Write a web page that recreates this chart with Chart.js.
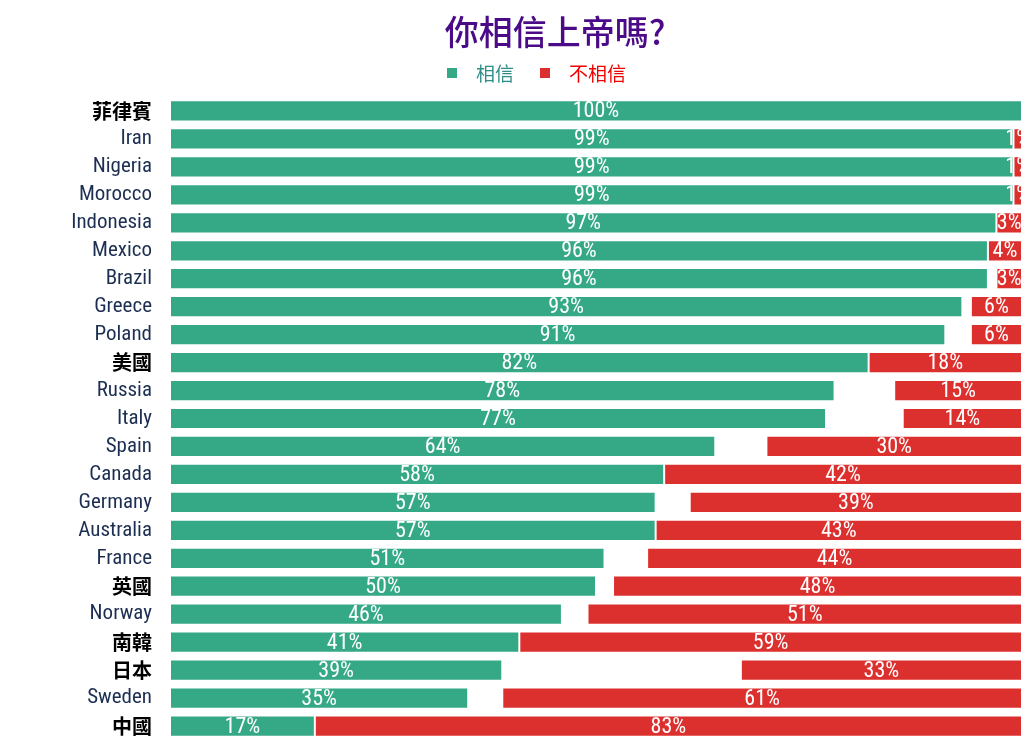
<!DOCTYPE html>
<html>
<head>
<meta charset="utf-8">
<script src="https://cdn.jsdelivr.net/npm/chart.js@4"></script>
<style>
  html, body { margin: 0; padding: 0; background: #fff; overflow: hidden; }
  #wrap { width: 1034px; height: 746px; }
</style>
</head>
<body>
<div id="wrap"><canvas id="chart"></canvas></div>
<script>
// 國家 / 地區
const countries = ['菲律賓', 'Iran', 'Nigeria', 'Morocco', 'Indonesia', 'Mexico', 'Brazil', 'Greece', 'Poland',
    '美國', 'Russia', 'Italy', 'Spain', 'Canada', 'Germany', 'Australia', 'France', '英國', 'Norway',
    '南韓', '日本', 'Sweden', '中國'];
// 相信 (%)
const believe = [100, 99, 99, 99, 97, 96, 96, 93, 91, 82, 78, 77, 64, 58, 57, 57, 51, 50, 46, 41, 39, 35, 17];
// 不相信 (%)
const notBelieve = [0, 1, 1, 1, 3, 4, 3, 6, 6, 18, 15, 14, 30, 42, 39, 43, 44, 48, 51, 59, 33, 61, 83];

const GREEN = '#35a986';
const RED = '#dc302e';
const NARROW = '"Liberation Sans Narrow", "Roboto Condensed", Roboto, sans-serif';
const CJK_FONT = '"Noto Sans CJK TC", sans-serif';
const cjk = /[\u4e00-\u9fff]/;

// 標題與圖例 (放在圖表上方)
const header = {
    id: 'header',
    afterDraw(chart) {
        const ctx = chart.ctx;
        ctx.save();
        ctx.textBaseline = 'middle';
        ctx.textAlign = 'center';
        ctx.fillStyle = '#4b0a87';
        ctx.font = '500 34px ' + CJK_FONT;
        ctx.fillText('你相信上帝嗎?', 555, 32);

        const items = [
            { text: '相信', box: GREEN, color: '#2e8f8a', x: 447 },
            { text: '不相信', box: RED, color: '#f00000', x: 540 }
        ];
        ctx.textAlign = 'left';
        ctx.font = '19px ' + CJK_FONT;
        items.forEach(it => {
            ctx.fillStyle = it.box;
            ctx.fillRect(it.x, 68, 10, 10);
            ctx.fillStyle = it.color;
            ctx.fillText(it.text, it.x + 29, 74);
        });
        ctx.restore();
    }
};

// 在每段長條中央寫上百分比
const valueLabels = {
    id: 'valueLabels',
    afterDatasetsDraw(chart) {
        const ctx = chart.ctx;
        ctx.save();
        ctx.fillStyle = '#fff';
        ctx.font = '22px ' + NARROW;
        ctx.textAlign = 'center';
        ctx.textBaseline = 'middle';
        chart.data.datasets.forEach((ds, i) => {
            const meta = chart.getDatasetMeta(i);
            meta.data.forEach((bar, j) => {
                const v = i === 0 ? believe[j] : notBelieve[j];
                if (!v) return;
                const x0 = Math.min(bar.x, bar.base);
                const x1 = Math.max(bar.x, bar.base);
                ctx.fillText(v + '%', (x0 + x1) / 2, bar.y + 1);
            });
        });
        ctx.restore();
    }
};

new Chart(document.getElementById('chart'), {
    type: 'bar',
    data: {
        labels: countries,
        datasets: [{
            label: '相信',
            data: believe,
            backgroundColor: GREEN,
            borderColor: 'rgba(255,255,255,0.5)',
            borderWidth: 1,
            borderSkipped: false,
            grouped: false,
            barPercentage: 0.76,
            categoryPercentage: 1
        }, {
            label: '不相信',
            data: notBelieve.map(v => [100 - v, 100]),
            backgroundColor: RED,
            borderColor: 'rgba(255,255,255,0.5)',
            borderWidth: 1,
            borderSkipped: false,
            grouped: false,
            barPercentage: 0.76,
            categoryPercentage: 1
        }]
    },
    options: {
        indexAxis: 'y',
        responsive: true,
        maintainAspectRatio: false,
        animation: false,
        layout: { padding: { top: 97, right: 12, bottom: 6, left: 0 } },
        scales: {
            x: {
                min: 0,
                max: 100,
                display: false
            },
            y: {
                grid: { display: false, tickLength: 18 },
                border: { display: false },
                afterFit: scale => { scale.width = 170; },
                ticks: {
                    padding: 0,
                    color: ctx => cjk.test(countries[ctx.index]) ? '#000' : '#1c2f52',
                    font: ctx => cjk.test(countries[ctx.index])
                        ? { family: CJK_FONT, size: 20, weight: 'bold', lineHeight: 0.5 }
                        : { family: NARROW, size: 21, lineHeight: 0.5 }
                }
            }
        },
        plugins: {
            title: { display: false },
            legend: { display: false },
            tooltip: { enabled: false }
        }
    },
    plugins: [valueLabels, header]
});
</script>
</body>
</html>
